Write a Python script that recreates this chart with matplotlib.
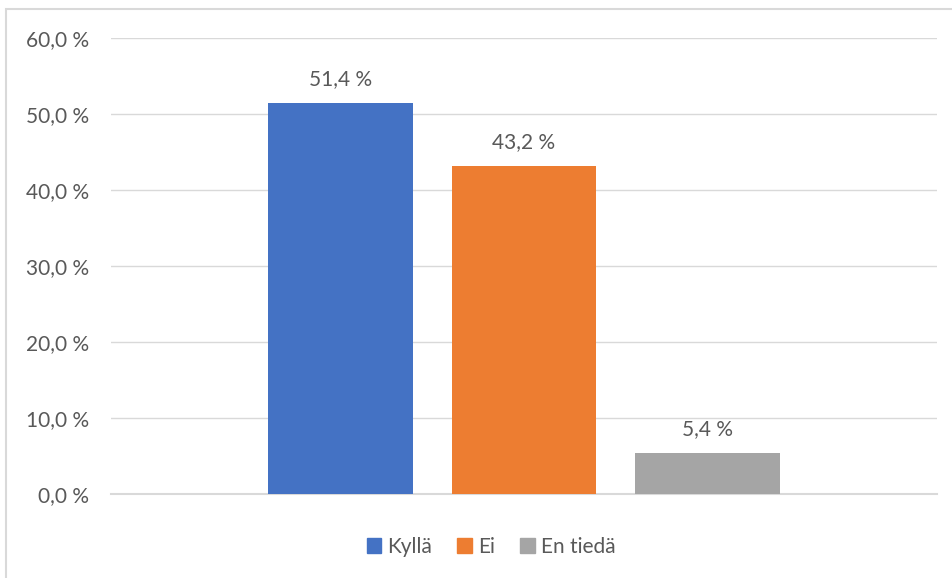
import matplotlib.pyplot as plt
from matplotlib.patches import Rectangle, Patch

# data
categories = ['Kyllä', 'Ei', 'En tiedä']
values = [51.4, 43.2, 5.4]
colors = ['#4472C4', '#ED7D31', '#A5A5A5']
yticks = [0, 10, 20, 30, 40, 50, 60]

plt.rcParams['font.family'] = ['Lato', 'DejaVu Sans']
txt_color = '#595959'

W, H = 952, 578
fig = plt.figure(figsize=(W / 100, H / 100), dpi=100)

# chart border (only left/top edges fall inside the image)
fig.patches.append(Rectangle((6 / W, -0.1), 1.0, 1.1 - 9 / H, transform=fig.transFigure,
                             fill=False, edgecolor='#d9d9d9', linewidth=1.5))

ax = fig.add_axes([111 / W, (H - 494) / H, (937 - 111) / W, (494 - 38) / H])

pos = range(len(values))
bars = ax.bar(pos, values, width=0.79, color=colors, zorder=3)

for p, v in zip(pos, values):
    ax.annotate(f'{v:.1f} %'.replace('.', ','), (p, v), xytext=(0, 10),
                textcoords='offset points', ha='center', va='bottom',
                fontsize=15, color=txt_color)

ax.set_xlim(-1.2507, 3.2507)
ax.set_ylim(0, 60)
ax.set_yticks(yticks)
ax.set_yticklabels([f'{t:.1f} %'.replace('.', ',') for t in yticks])
ax.tick_params(axis='y', length=0, pad=16, labelsize=15, labelcolor=txt_color)
ax.set_xticks([])
ax.grid(axis='y', color='#d9d9d9', linewidth=1, zorder=0)
for s in ['top', 'right', 'left']:
    ax.spines[s].set_visible(False)
ax.spines['bottom'].set_color('#d9d9d9')
ax.spines['bottom'].set_linewidth(1.5)

handles = [Patch(color=c, label=l) for c, l in zip(colors, categories)]
fig.legend(handles=handles, loc='center', bbox_to_anchor=(491 / W, 1 - 547 / H),
           ncol=3, frameon=False, fontsize=15, labelcolor=txt_color,
           handlelength=0.7, handleheight=0.7, handletextpad=0.3, columnspacing=1.2)

fig.savefig('out.png', dpi=100)
